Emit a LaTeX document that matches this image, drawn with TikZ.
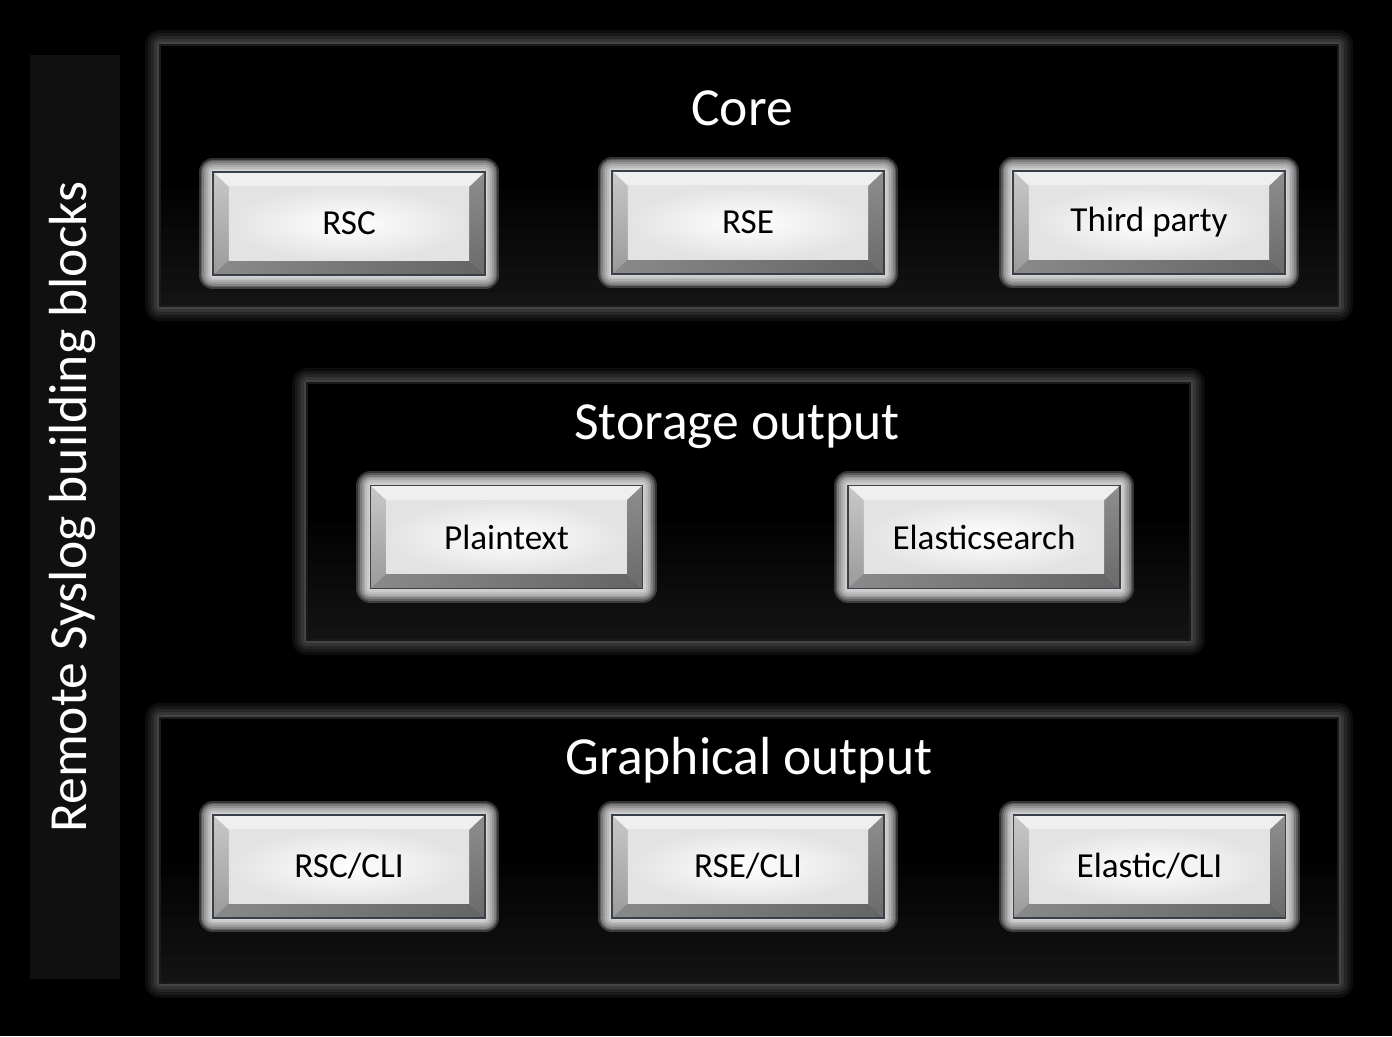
\documentclass[tikz,border=0pt]{standalone}
\usepackage{fontspec}
\setmainfont{Carlito}
\usetikzlibrary{calc}

\definecolor{keyedge}{HTML}{3A404A}
\definecolor{paneledge}{HTML}{1A1A1A}
\definecolor{barfill}{HTML}{101010}
\definecolor{bevtop}{HTML}{EFEFEF}
\definecolor{bevleftA}{HTML}{C8C8C8}
\definecolor{bevleftB}{HTML}{9A9A9A}
\definecolor{bevrightA}{HTML}{8E8E8E}
\definecolor{bevrightB}{HTML}{6A6A6A}
\definecolor{bevbotA}{HTML}{8A8A8A}
\definecolor{bevbotB}{HTML}{646464}
\definecolor{facerim}{HTML}{E3E3E3}

\tikzset{
  glowring/.style={preaction={draw=white, opacity=0.2, line width=#1, line join=round}},
  panel/.style={draw=paneledge, line width=1.1pt, fill=black,
    minimum width=23.56cm, minimum height=5.22cm,
    preaction={draw=white, opacity=0.05, line width=17pt, line join=round},
    preaction={draw=white, opacity=0.05, line width=13.6pt, line join=round},
    preaction={draw=white, opacity=0.06, line width=10.2pt, line join=round},
    preaction={draw=white, opacity=0.07, line width=6.8pt, line join=round},
    preaction={draw=white, opacity=0.08, line width=3.4pt, line join=round},
    path picture={
      \foreach \f in {0.05,0.1,...,0.5}
        \fill[white, opacity=0.013] (path picture bounding box.south west)
          rectangle ($(path picture bounding box.south east)!\f!(path picture bounding box.north east)$);
    }},
  paneltitle/.style={text=white, font=\fontsize{30.5}{34}\selectfont},
  keycap/.style={draw=keyedge, line width=0.8pt, fill=facerim,
    minimum width=5.44cm, minimum height=2.06cm, inner sep=0pt,
    font=\fontsize{20}{24}\selectfont, text=black,
    glowring=16pt, glowring=14pt, glowring=12pt, glowring=10pt,
    glowring=8pt, glowring=6pt, glowring=4pt, glowring=2pt,
    path picture={
      \fill[bevtop] (path picture bounding box.north west)
        -- (path picture bounding box.north east)
        -- ([xshift=-9pt,yshift=-8.5pt]path picture bounding box.north east)
        -- ([xshift=9pt,yshift=-8.5pt]path picture bounding box.north west) -- cycle;
      \shade[top color=bevleftA, bottom color=bevleftB]
        (path picture bounding box.north west)
        -- ([xshift=9pt,yshift=-8.5pt]path picture bounding box.north west)
        -- ([xshift=9pt,yshift=8.5pt]path picture bounding box.south west)
        -- (path picture bounding box.south west) -- cycle;
      \shade[top color=bevrightA, bottom color=bevrightB]
        (path picture bounding box.north east)
        -- ([xshift=-9pt,yshift=-8.5pt]path picture bounding box.north east)
        -- ([xshift=-9pt,yshift=8.5pt]path picture bounding box.south east)
        -- (path picture bounding box.south east) -- cycle;
      \shade[left color=bevbotA, right color=bevbotB]
        (path picture bounding box.south west)
        -- ([xshift=9pt,yshift=8.5pt]path picture bounding box.south west)
        -- ([xshift=-9pt,yshift=8.5pt]path picture bounding box.south east)
        -- (path picture bounding box.south east) -- cycle;
      \shade[inner color=white, outer color=facerim]
        ([xshift=9pt,yshift=-8.5pt]path picture bounding box.north west)
        rectangle ([xshift=-9pt,yshift=8.5pt]path picture bounding box.south east);
    }},
  sidebar/.style={fill=barfill, minimum width=1.8cm, minimum height=18.5cm}
}

\begin{document}
\begin{tikzpicture}[x=0.02cm, y=-0.02cm]
\useasboundingbox (0,0) rectangle (1392,1036);
\fill[black] (0,0) rectangle (1392,1036);

% side label
\node[sidebar] (bar) at (75,517) {};
\node[text=white, rotate=90, font=\fontsize{30.5}{34}\selectfont] (barlabel) at (73,507) {Remote Syslog building blocks};

% core
\node[panel] (core) at (749,175.5) {};
\node[paneltitle] (coretitle) at (742,108) {Core};
\node[keycap] (rsc) at (349,223.5) {RSC};
\node[keycap] (rse) at (748,222.5) {RSE};
\node[keycap] (third) at (1149,222.5) {Third party};

% storage output
\node[panel, minimum width=17.66cm, minimum height=5.14cm] (storage) at (748.5,511.5) {};
\node[paneltitle] (storagetitle) at (737,427) {Storage output};
\node[keycap] (plain) at (506.5,537) {Plaintext};
\node[keycap] (elastic) at (984,537) {Elasticsearch};

% graphical output
\node[panel, minimum height=5.3cm] (graph) at (749,850.5) {};
\node[paneltitle] (graphtitle) at (749,760) {Graphical output};
\node[keycap] (rsccli) at (349,866.5) {RSC/CLI};
\node[keycap] (rsecli) at (748,866.5) {RSE/CLI};
\node[keycap] (elcli) at (1149.5,866.5) {Elastic/CLI};
\end{tikzpicture}
\end{document}
